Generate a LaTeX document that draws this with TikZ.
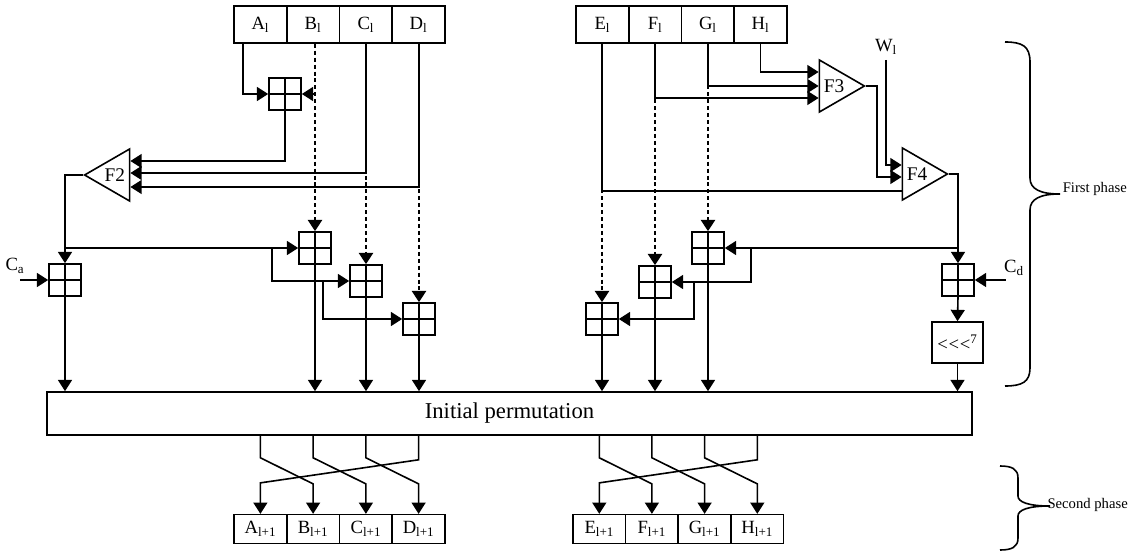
\documentclass[tikz,border=0pt]{standalone}
\usepackage{fontspec}
\setmainfont{Liberation Serif}
\usetikzlibrary{arrows.meta, calc, shapes.geometric}

\begin{document}
\begin{tikzpicture}[x=0.75pt, y=-0.75pt, line width=1.2pt, font=\fontsize{14}{16}\selectfont,
    reg/.style={draw, minimum width=39.5pt, minimum height=27.75pt, inner sep=0pt},
    regn/.style={reg, minimum height=21.5pt},
    adder/.style={draw, minimum size=24pt, inner sep=0pt,
      path picture={\draw (path picture bounding box.north) -- (path picture bounding box.south)
        (path picture bounding box.west) -- (path picture bounding box.east);}},
    func/.style={draw, isosceles triangle, isosceles triangle apex angle=60, minimum size=33.75pt,
      inner sep=0pt, font=\fontsize{14.5}{16}\selectfont},
    arr/.style={-{Triangle[length=8.5pt, width=10.5pt]}},
    dline/.style={arr, line width=2pt, dash pattern=on 3pt off 2.2pt},
    phase/.style={anchor=east, font=\fontsize{11}{13}\selectfont}]
      \useasboundingbox (0,0) rectangle (1133,556);

      % registers of round l
      \node[reg] (Al) at (260.4,24.5) {A\textsubscript{l}};
      \node[reg] (Bl) at (313.1,24.5) {B\textsubscript{l}};
      \node[reg] (Cl) at (365.9,24.5) {C\textsubscript{l}};
      \node[reg] (Dl) at (418.6,24.5) {D\textsubscript{l}};
      \node[reg] (El) at (602.4,24.5) {E\textsubscript{l}};
      \node[reg] (Fl) at (655.1,24.5) {F\textsubscript{l}};
      \node[reg] (Gl) at (707.9,24.5) {G\textsubscript{l}};
      \node[reg] (Hl) at (760.6,24.5) {H\textsubscript{l}};

      % registers of round l+1
      \node[regn] (An) at (260.4,529) {A\textsubscript{l+1}};
      \node[regn] (Bn) at (313.1,529) {B\textsubscript{l+1}};
      \node[regn] (Cn) at (365.9,529) {C\textsubscript{l+1}};
      \node[regn] (Dn) at (418.6,529) {D\textsubscript{l+1}};
      \node[regn] (En) at (599.3,529) {E\textsubscript{l+1}};
      \node[regn] (Fn) at (651.9,529) {F\textsubscript{l+1}};
      \node[regn] (Gn) at (704.6,529) {G\textsubscript{l+1}};
      \node[regn] (Hn) at (757.3,529) {H\textsubscript{l+1}};

      % modular adders
      \node[adder] (add1) at (285,94) {};
      \node[adder] (addCa) at (65,280) {};
      \node[adder] (add2) at (315,248) {};
      \node[adder] (add3) at (366,281) {};
      \node[adder] (add4) at (419,319) {};
      \node[adder] (addE) at (602,319) {};
      \node[adder] (addF) at (655,282) {};
      \node[adder] (addG) at (708,248) {};
      \node[adder] (addCd) at (958,280) {};

      % functions
      \node[func, shape border rotate=180, anchor=apex] (F2) at (83,175) {F2};
      \node[func, anchor=apex] (F3) at (866,86) {F3};
      \node[func, anchor=apex] (F4) at (949,174) {F4};

      \node[draw, minimum width=693.75pt, minimum height=32.25pt, inner sep=0pt,
        font=\fontsize{17}{19}\selectfont] (perm) at (509.5,413.5) {Initial permutation};
      \node[draw, minimum width=38.25pt, minimum height=30.75pt, inner sep=0pt] (rot) at (957.5,342.5) {<\kern0.5pt<\kern0.5pt<\textsuperscript{7}};

      \node (Ca) at (15,266) {C\textsubscript{a}};
      \node (Cd) at (1014,268) {C\textsubscript{d}};
      \node (Wl) at (886,47) {W\textsubscript{l}};

      % left half
      \draw[arr] ([xshift=-13pt]Al.south) |- (add1.west);
      \draw[dline] (add2.north |- Bl.south) -- (add2.north);
      \draw[arr] (add2.north |- add1.east) -- (add1.east);
      \draw[dline] (add3.north |- Cl.south) -- (add3.north);
      \draw[dline] (add4.north |- Dl.south) -- (add4.north);
      \draw[arr] (add1.south) |- ($(F2.lower side)+(0,-14)$);
      \draw[arr] (add3.north |- Cl.south) |- ($(F2.lower side)+(0,-2)$);
      \draw[arr] (add4.north |- Dl.south) |- ($(F2.lower side)+(0,12)$);
      \draw[arr] (F2.apex) -| (addCa.north);
      \draw[arr] (addCa.north |- add2.west) -- (add2.west);
      \coordinate (br1) at (272,248);
      \coordinate (br2) at (323,281);
      \draw[arr] (br1) |- (add3.west);
      \draw[arr] (br2) |- (add4.west);
      \draw[arr] ($(addCa.west)+(-28,0)$) -- (addCa.west);

      % right half
      \draw[dline] (addE.north |- El.south) -- (addE.north);
      \draw[dline] (addF.north |- Fl.south) -- (addF.north);
      \draw[dline] (addG.north |- Gl.south) -- (addG.north);
      \draw (addE.north |- El.south) |- ($(F4.lower side)+(0,17)$);
      \draw[arr] (addF.north |- Fl.south) |- ($(F3.lower side)+(0,12)$);
      \draw[arr] (addG.north |- Gl.south) |- ($(F3.lower side)+(0,0)$);
      \draw[arr] (Hl.south) |- ($(F3.lower side)+(0,-14)$);
      \draw[arr] (F3.apex) -- ++(11,0) |- ($(F4.lower side)+(0,3)$);
      \draw[arr] (Wl.south) |- ($(F4.lower side)+(0,-9)$);
      \draw[arr] (F4.apex) -| (addCd.north);
      \draw[arr] (addCd.north |- addG.east) -- (addG.east);
      \coordinate (br3) at (751,248);
      \coordinate (br4) at (694,282);
      \draw[arr] (br3) |- (addF.east);
      \draw[arr] (br4) |- (addE.east);
      \draw[arr] ($(addCd.east)+(31,0)$) -- (addCd.east);
      \draw[arr] (addCd.south) -- (rot.north);

      % into the permutation
      \foreach \n in {addCa, add2, add3, add4, addE, addF, addG, rot}
        \draw[arr] (\n.south) -- (\n.south |- perm.north);

      % out of the permutation
      \foreach \a/\b in {An/Bn, Bn/Cn, Cn/Dn, En/Fn, Fn/Gn, Gn/Hn}
        \draw[arr] (perm.south -| \a) -- ++(0,22) -- ($(\b.north)+(0,-30)$) -- (\b.north);
      \draw[arr] (perm.south -| Dn) -- ++(0,24) -- ($(An.north)+(0,-31)$) -- (An.north);
      \draw[arr] (perm.south -| Hn) -- ++(0,24) -- ($(En.north)+(0,-31)$) -- (En.north);

      % phases
      \draw (1005,42) .. controls (1022,42) and (1030,46) .. (1030,62) -- (1030,178)
        .. controls (1030,189) and (1040,194) .. (1060,194)
        .. controls (1040,194) and (1030,199) .. (1030,210) -- (1030,368)
        .. controls (1030,382) and (1022,386) .. (1005,386);
      \node[phase] (ph1) at (1132,189) {First phase};
      \draw (1000,466) .. controls (1012,466) and (1018,469) .. (1018,478) -- (1018,496)
        .. controls (1018,502) and (1028,506) .. (1050,506)
        .. controls (1028,506) and (1018,510) .. (1018,516) -- (1018,538)
        .. controls (1018,547) and (1012,550) .. (1000,550);
      \node[phase] (ph2) at (1133,505) {Second phase};
\end{tikzpicture}
\end{document}
